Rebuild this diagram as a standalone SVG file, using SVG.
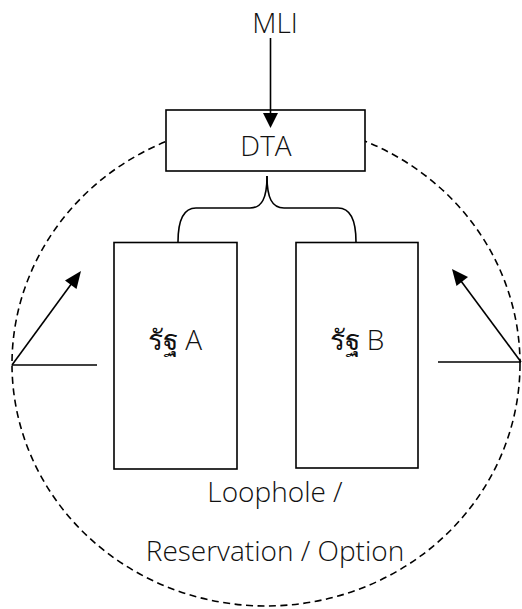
<svg xmlns="http://www.w3.org/2000/svg" width="522" height="609" viewBox="0 0 522 609">
  <style>
    .box { fill: #ffffff; stroke: #000000; stroke-width: 1.6; }
    .line { fill: none; stroke: #000000; stroke-width: 1.6; }
    .dash { fill: none; stroke: #000000; stroke-width: 1.6; stroke-dasharray: 7 4.5; }
    .head { fill: #000000; }
    .label { font-family: "Open Sans", "Noto Sans", "DejaVu Sans", sans-serif; font-weight: 300; font-size: 28px; fill: #111111; text-anchor: middle; }
  </style>

  <!-- dashed boundary -->
  <ellipse class="dash" cx="266" cy="364" rx="254" ry="242"/>

  <g id="mli">
    <text class="label" x="275" y="33">MLI</text>
  </g>

  <g id="dta">
    <rect class="box" x="166" y="110" width="199" height="61"/>
    <text class="label" x="266" y="156">DTA</text>
  </g>

  <g id="state-a">
    <rect class="box" x="114" y="242.5" width="123" height="226.5"/>
    <text class="label" x="175" y="350">รัฐ A</text>
  </g>

  <g id="state-b">
    <rect class="box" x="296" y="242.5" width="122" height="225.5"/>
    <text class="label" x="357" y="350">รัฐ B</text>
  </g>

  <g id="caption">
    <text class="label" x="275" y="502">Loophole /</text>
    <text class="label" x="275" y="561">Reservation / Option</text>
  </g>

  <g id="connectors">
    <!-- MLI into DTA -->
    <line class="line" x1="270.5" y1="38" x2="270.5" y2="114"/>
    <path class="head" d="M263,113 L278,113 L270.5,128 z"/>
    <!-- brace from DTA to both states -->
    <path class="line" d="M267,176 C267,198 262,208 250,208 L196,208 C182,208 178,222 178,242"/>
    <path class="line" d="M267,176 C267,198 272,208 284,208 L338,208 C352,208 356,222 356,242"/>
    <!-- left angle -->
    <line class="line" x1="12" y1="365" x2="97" y2="365"/>
    <line class="line" x1="12" y1="365" x2="72" y2="283"/>
    <path class="head" d="M81,271 L76.5,289 L65,280.5 z"/>
    <!-- right angle -->
    <line class="line" x1="438" y1="362" x2="521" y2="362"/>
    <line class="line" x1="521" y1="362" x2="461" y2="281"/>
    <path class="head" d="M452,269 L468,277 L456.5,286 z"/>
  </g>
</svg>
